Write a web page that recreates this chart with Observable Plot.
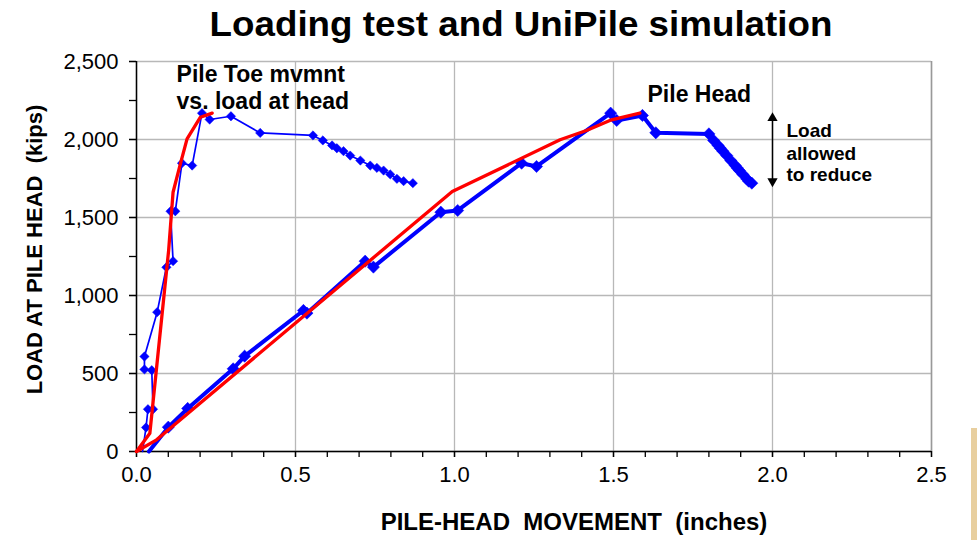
<!DOCTYPE html>
<html>
<head>
<meta charset="utf-8">
<script src="https://cdn.jsdelivr.net/npm/d3@7"></script>
<script src="https://cdn.jsdelivr.net/npm/@observablehq/plot@0.6"></script>
<style>
  html, body { margin: 0; padding: 0; background: #fff; }
  #wrap { position: relative; width: 977px; height: 540px; overflow: hidden; font-family: "Liberation Sans", Arial, sans-serif; }
  #title { position: absolute; top: 6px; left: 521px; transform: translateX(-50%) scaleX(1.05); white-space: nowrap;
           font-size: 35px; line-height: 35px; font-weight: bold; color: #000; }
  #chart { position: absolute; top: 45px; left: 0; }
  #beige { position: absolute; left: 971px; top: 428px; width: 6px; height: 112px; background: #e8cf9f; }
</style>
</head>
<body>
<div id="wrap">
  <div id="title">Loading test and UniPile simulation</div>
  <div id="chart"></div>
  <div id="beige"></div>
</div>
<script>
// ---- Data ----
// Measured: pile-toe movement vs. load at head (thin blue)
const toeMove = [0.019, 0.030, 0.036, 0.052, 0.048, 0.025, 0.025, 0.065, 0.094, 0.115, 0.107, 0.122, 0.143, 0.175, 0.206, 0.230, 0.297, 0.389, 0.555, 0.586, 0.615, 0.630, 0.651, 0.672, 0.704, 0.735, 0.756, 0.777, 0.798, 0.819, 0.840, 0.869];
const toeLoad = [0, 154, 271, 271, 521, 526, 609, 893, 1181, 1220, 1540, 1540, 1848, 1833, 2169, 2128, 2149, 2042, 2026, 1994, 1962, 1944, 1925, 1897, 1865, 1833, 1818, 1801, 1776, 1748, 1733, 1720];
// Measured: pile-head movement (thick blue)
const headMove = [0.039, 0.100, 0.161, 0.304, 0.340, 0.525, 0.536, 0.719, 0.745, 0.957, 1.010, 1.211, 1.258, 1.491, 1.510, 1.591, 1.633, 1.800, 1.815, 1.829, 1.836, 1.844, 1.856, 1.869, 1.883, 1.889, 1.896, 1.907, 1.919, 1.925, 1.935];
const headLoad = [0, 156, 276, 530, 611, 904, 887, 1220, 1182, 1534, 1545, 1848, 1827, 2169, 2122, 2154, 2043, 2036, 1994, 1962, 1944, 1925, 1897, 1865, 1833, 1818, 1801, 1776, 1748, 1733, 1720];
// UniPile simulation (red)
const simToeMove = [0, 0.042, 0.101, 0.115, 0.138, 0.159, 0.201, 0.238];
const simToeLoad = [0, 117, 1288, 1662, 1844, 2004, 2143, 2169];
const simHeadMove = [0, 0.063, 0.993, 1.332, 1.415, 1.494, 1.583];
const simHeadLoad = [0, 75, 1667, 1998, 2058, 2126, 2169];

// Axis ticks
const xTicks = [0, 0.5, 1.0, 1.5, 2.0, 2.5];
const xMinorTicks = [0, 0.1, 0.2, 0.3, 0.4, 0.5, 0.6, 0.7, 0.8, 0.9, 1.0, 1.1, 1.2, 1.3, 1.4, 1.5, 1.6, 1.7, 1.8, 1.9, 2.0, 2.1, 2.2, 2.3, 2.4, 2.5];
const yTicks = [0, 500, 1000, 1500, 2000, 2500];
const yMinorTicks = [0, 250, 500, 750, 1000, 1250, 1500, 1750, 2000, 2250, 2500];

// Texts
const xLabel = "PILE-HEAD  MOVEMENT  (inches)";
const yLabel = "LOAD AT PILE HEAD  (kips)";
const notes = [
  {text: "Pile Toe mvmnt", x: 0.126, y: 2417, size: 23},
  {text: "vs. load at head", x: 0.126, y: 2245, size: 23},
  {text: "Pile Head", x: 1.607, y: 2288, size: 23},
  {text: "Load", x: 2.044, y: 2054, size: 19},
  {text: "allowed", x: 2.044, y: 1910, size: 19},
  {text: "to reduce", x: 2.044, y: 1772, size: 19}
];
const arrowX = 2.0, arrowTop = 2175, arrowBottom = 1694;

// ---- Build tables ----
const toe = toeMove.map((x, i) => ({x, y: toeLoad[i]}));
const head = headMove.map((x, i) => ({x, y: headLoad[i]}));
const simToe = simToeMove.map((x, i) => ({x, y: simToeLoad[i]}));
const simHead = simHeadMove.map((x, i) => ({x, y: simHeadLoad[i]}));

const blue = "#0000ff", red = "#ff0000", grid = "#b8b8b8";

const plot = Plot.plot({
  width: 977,
  height: 495,
  marginTop: 16,
  marginRight: 46,
  marginBottom: 89,
  marginLeft: 136,
  style: {fontFamily: "'Liberation Sans', Arial, sans-serif", color: "#000", background: "transparent", overflow: "visible"},
  x: {domain: [0, 2.5]},
  y: {domain: [0, 2500]},
  marks: [
    Plot.gridX(xTicks, {stroke: grid, strokeOpacity: 1, strokeWidth: 1.3}),
    Plot.gridY(yTicks, {stroke: grid, strokeOpacity: 1, strokeWidth: 1.3}),
    Plot.ruleX([2.5], {stroke: "#999", strokeWidth: 1.5}),
    Plot.axisX({ticks: xMinorTicks, tickSize: 6, tickFormat: () => "", label: null, strokeWidth: 1.3}),
    Plot.axisX({ticks: xTicks, tickSize: 6, tickPadding: 9, tickFormat: d3.format(".1f"), fontSize: 22, label: null, strokeWidth: 1.3}),
    Plot.axisY({ticks: yMinorTicks, tickSize: 7, tickFormat: () => "", label: null, strokeWidth: 1.3}),
    Plot.axisY({ticks: yTicks, tickSize: 7, tickPadding: 11, tickFormat: d3.format(","), fontSize: 22, label: null, strokeWidth: 1.3}),
    Plot.ruleX([0], {stroke: "#000", strokeWidth: 1.5}),
    Plot.ruleY([0], {stroke: "#000", strokeWidth: 1.5}),
    // measured toe
    Plot.line(toe, {x: "x", y: "y", stroke: blue, strokeWidth: 1.7}),
    Plot.dot(toe.filter(d => d.y > 0), {x: "x", y: "y", symbol: "diamond2", r: 4.2, fill: blue, stroke: blue, strokeWidth: 0.5}),
    // measured head
    Plot.line(head, {x: "x", y: "y", stroke: blue, strokeWidth: 4}),
    Plot.dot(head.filter(d => d.y > 0), {x: "x", y: "y", symbol: "diamond2", r: 5.5, fill: blue, stroke: blue, strokeWidth: 0.5}),
    // simulation
    Plot.line(simToe, {x: "x", y: "y", stroke: red, strokeWidth: 3.3}),
    Plot.line(simHead, {x: "x", y: "y", stroke: red, strokeWidth: 3.3}),
    // annotations
    Plot.text(notes, {x: "x", y: "y", text: "text", fontSize: d => d.size, fontWeight: "bold", textAnchor: "start", lineAnchor: "middle", fill: "#000"}),
    Plot.link([{x1: arrowX, y1: arrowBottom + 40, x2: arrowX, y2: arrowTop - 40}], {x1: "x1", y1: "y1", x2: "x2", y2: "y2", stroke: "#000", strokeWidth: 1.5}),
    Plot.dot([{x: arrowX, y: arrowTop - 38}], {x: "x", y: "y", symbol: "triangle", r: 3.8, fill: "#000"}),
    Plot.dot([{x: arrowX, y: arrowBottom + 38}], {x: "x", y: "y", symbol: "triangle", r: 3.8, fill: "#000", rotate: 180}),
    // axis titles
    Plot.text([xLabel], {frameAnchor: "bottom", dx: 40, dy: 71, text: d => d, fontSize: 24, fontWeight: "bold", textAnchor: "middle", lineAnchor: "middle"}),
    Plot.text([yLabel], {frameAnchor: "left", dx: -102, dy: -7, rotate: -90, text: d => d, fontSize: 22, fontWeight: "bold", textAnchor: "middle", lineAnchor: "middle"})
  ]
});
document.getElementById("chart").appendChild(plot);
</script>
</body>
</html>
